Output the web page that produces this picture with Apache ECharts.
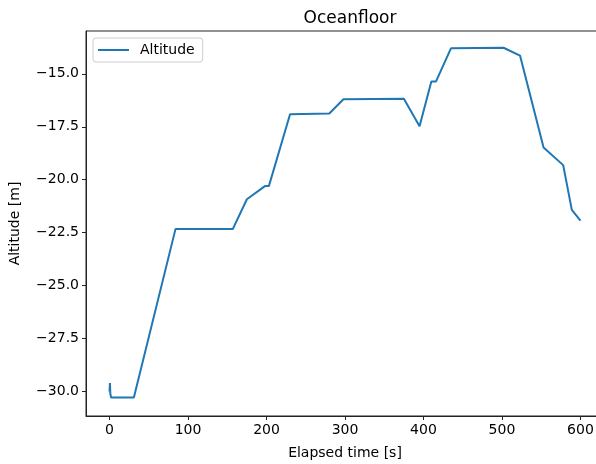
<!DOCTYPE html>
<html>
<head>
<meta charset="utf-8">
<script src="https://cdn.jsdelivr.net/npm/echarts@6/dist/echarts.min.js"></script>
<style>
 html, body { margin: 0; padding: 0; background: #fff; }
 #chart { width: 596px; height: 464px; }
</style>
</head>
<body>
<div id="chart"></div>
<script>
// elapsed time [s] and altitude [m]
var times = [0, 0.5, 1, 2, 31, 84, 157, 175, 198, 203, 230, 280, 298, 375, 395, 410, 416, 435, 502, 523, 553, 578, 589, 600];
var altitudes = [-30.0, -29.6, -30.1, -30.28, -30.28, -22.33, -22.33, -20.92, -20.30, -20.30, -16.91, -16.87, -16.2, -16.18, -17.48, -15.36, -15.36, -13.8, -13.77, -14.14, -18.48, -19.31, -21.42, -21.93];
var xTicks = [0, 100, 200, 300, 400, 500, 600];
var yTicks = [-30, -27.5, -25, -22.5, -20, -17.5, -15];

var points = times.map(function (t, i) { return [t, altitudes[i]]; });
var font = 'DejaVu Sans';

var chart = echarts.init(document.getElementById('chart'));
var option = {
    backgroundColor: '#fff',
    animation: false,
    title: {
        text: 'Oceanfloor',
        left: 345, top: 5, textAlign: 'center',
        textStyle: { fontFamily: font, fontSize: 17, fontWeight: 'normal', color: '#000' }
    },
    legend: {
        left: 93, top: 38,
        padding: [5, 8, 5, 5],
        borderColor: '#ccc', borderWidth: 1, borderRadius: 3,
        itemWidth: 31, itemHeight: 2, itemGap: 10,
        icon: 'rect',
        textStyle: { fontFamily: font, fontSize: 14, color: '#000', padding: [0, 0, 0, 6] },
        data: ['Altitude']
    },
    grid: {
        left: 86, top: 31, width: 518, height: 385,
        outerBoundsMode: 'none', containLabel: false,
        show: true, borderColor: '#222', borderWidth: 1, backgroundColor: '#fff'
    },
    xAxis: {
        type: 'value', min: -30, max: 630,
        name: 'Elapsed time [s]', nameLocation: 'middle', nameGap: 30,
        nameTextStyle: { fontFamily: font, fontSize: 14, color: '#000' },
        axisLine: { show: true, onZero: false, lineStyle: { color: '#222', width: 1 } },
        axisTick: { show: true, length: 4, customValues: xTicks, lineStyle: { color: '#222' } },
        axisLabel: { customValues: xTicks, margin: 7, fontFamily: font, fontSize: 14, color: '#000' },
        splitLine: { show: false }
    },
    yAxis: {
        type: 'value', min: -31.15, max: -12.98,
        name: 'Altitude [m]', nameLocation: 'middle', nameGap: 64,
        nameTextStyle: { fontFamily: font, fontSize: 14, color: '#000' },
        axisLine: { show: true, onZero: false, lineStyle: { color: '#222', width: 1 } },
        axisTick: { show: true, length: 4, customValues: yTicks, lineStyle: { color: '#222' } },
        axisLabel: {
            customValues: yTicks, margin: 7, fontFamily: font, fontSize: 14, color: '#000',
            formatter: function (v) { return v.toFixed(1).replace('-', '\u2212'); }
        },
        splitLine: { show: false }
    },
    series: [{
        name: 'Altitude',
        type: 'line',
        data: points,
        showSymbol: false,
        color: '#1f77b4',
        lineStyle: { color: '#1f77b4', width: 2 }
    }]
};
chart.setOption(option);
</script>
</body>
</html>
